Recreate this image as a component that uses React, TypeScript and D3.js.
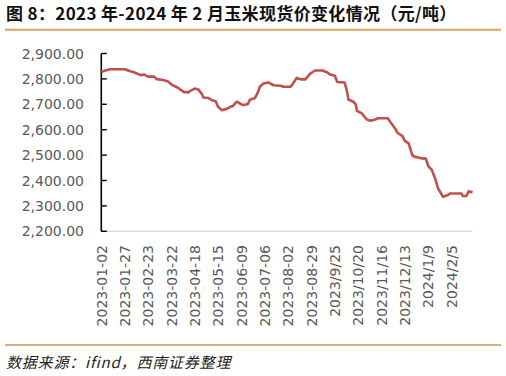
import React from "react";
import * as d3 from "d3";

const title = "图 8：2023 年-2024 年 2 月玉米现货价变化情况（元/吨）";
const source = "数据来源：ifind，西南证券整理";

const xTickLabels = [
  "2023-01-02", "2023-01-27", "2023-02-23", "2023-03-22", "2023-04-18",
  "2023-05-15", "2023-06-09", "2023-07-06", "2023-08-02", "2023-08-29",
  "2023/9/25", "2023/10/20", "2023/11/16", "2023/12/13", "2024/1/9", "2024/2/5",
];
const xTickDays = [0, 19, 38, 57, 76, 95, 114, 133, 152, 171, 190, 209, 228, 247, 266, 285];
const lastDay = 302;
const yTicks = [2200, 2300, 2400, 2500, 2600, 2700, 2800, 2900];

// trading-day index of each reading, and the price read at it (元/吨)
const priceDay = [
  0, 7, 19, 23, 27, 32, 35, 38, 43, 45, 50, 54, 58, 62, 67, 71, 72, 76, 79, 82,
  83, 87, 90, 93, 95, 98, 102, 105, 107, 110, 112, 115, 119, 121, 125, 127, 129, 132, 136, 140,
  146, 148, 154, 156, 159, 163, 166, 170, 174, 180, 184, 186, 190, 192, 198, 200, 201, 205, 207, 208,
  212, 216, 219, 223, 225, 233, 235, 239, 241, 245, 247, 250, 253, 255, 258, 261, 264, 266, 269, 272,
  274, 278, 282, 284, 293, 294, 297, 299, 302,
];
const priceValue = [
  2828, 2838, 2838, 2831, 2825, 2815, 2817, 2809, 2809, 2799, 2796, 2791, 2775, 2766, 2749, 2747, 2752, 2762, 2758, 2739,
  2727, 2725, 2716, 2712, 2690, 2677, 2682, 2690, 2693, 2710, 2706, 2697, 2700, 2718, 2725, 2743, 2769, 2782, 2786, 2775,
  2773, 2769, 2769, 2782, 2804, 2798, 2798, 2821, 2833, 2833, 2825, 2817, 2812, 2788, 2786, 2749, 2719, 2710, 2700, 2674,
  2664, 2640, 2635, 2640, 2645, 2645, 2631, 2605, 2588, 2575, 2556, 2546, 2500, 2493, 2491, 2487, 2486, 2457, 2441, 2402,
  2369, 2336, 2343, 2349, 2349, 2339, 2339, 2358, 2353,
];

const W = 506;
const H = 376;
const plotLeft = 101.3;
const plotRight = 472.5;
const plotTop = 53.5;
const plotBottom = 231.3;

export default function App() {
  const x = d3.scaleLinear().domain([0, lastDay]).range([plotLeft, plotRight]);
  const y = d3.scaleLinear().domain([2200, 2900]).range([plotBottom, plotTop]);
  const pts: [number, number][] = priceDay.map((d, i) => [d, priceValue[i]]);
  const line = d3
    .line<[number, number]>()
    .x((d) => x(d[0]))
    .y((d) => y(d[1]))
    .curve(d3.curveLinear);
  const fmt = d3.format(",.2f");

  return (
    <svg
      width={W}
      height={H}
      style={{ position: "absolute", left: 0, top: 0, background: "#fff" }}
      fontFamily="'DejaVu Sans', sans-serif"
    >
      <text
        x={6}
        y={20}
        fontFamily="'Noto Sans CJK SC', sans-serif"
        fontWeight="bold"
        fontSize={17}
        letterSpacing={0.35}
        fill="#111"
      >
        {title}
      </text>
      <line x1={5} x2={501} y1={29.7} y2={29.7} stroke="#d9a55b" strokeWidth={2} />

      {/* y axis labels */}
      {yTicks.map((t) => (
        <text
          key={t}
          x={84}
          y={y(t)}
          textAnchor="end"
          dominantBaseline="central"
          fontSize={14}
          fill="#595959"
        >
          {fmt(t)}
        </text>
      ))}

      {/* x axis line */}
      <line x1={plotLeft} x2={plotRight} y1={plotBottom} y2={plotBottom} stroke="#d9d9d9" strokeWidth={1.5} />

      {/* y axis line + inside ticks */}
      <line x1={plotLeft} x2={plotLeft} y1={plotTop} y2={plotBottom} stroke="#000" strokeWidth={1.6} />
      {yTicks.map((t) => (
        <line key={t} x1={plotLeft} x2={plotLeft + 5.5} y1={y(t)} y2={y(t)} stroke="#000" strokeWidth={1.4} />
      ))}

      {/* x labels */}
      {xTickDays.map((d, i) => (
        <text
          key={d}
          transform={`translate(${x(d) + 5.2},245) rotate(-90)`}
          textAnchor="end"
          fontSize={14}
          fill="#595959"
        >
          {xTickLabels[i]}
        </text>
      ))}

      <path d={line(pts) || ""} fill="none" stroke="#c0504d" strokeWidth={2.6} strokeLinejoin="round" />

      <line x1={5} x2={501} y1={345} y2={345} stroke="#c8945a" strokeWidth={1.5} />
      <text
        x={6}
        y={368}
        fontFamily="'Noto Sans CJK SC', sans-serif"
        fontStyle="italic"
        fontSize={15}
        letterSpacing={0.8}
        fill="#222"
      >
        {source}
      </text>
    </svg>
  );
}
